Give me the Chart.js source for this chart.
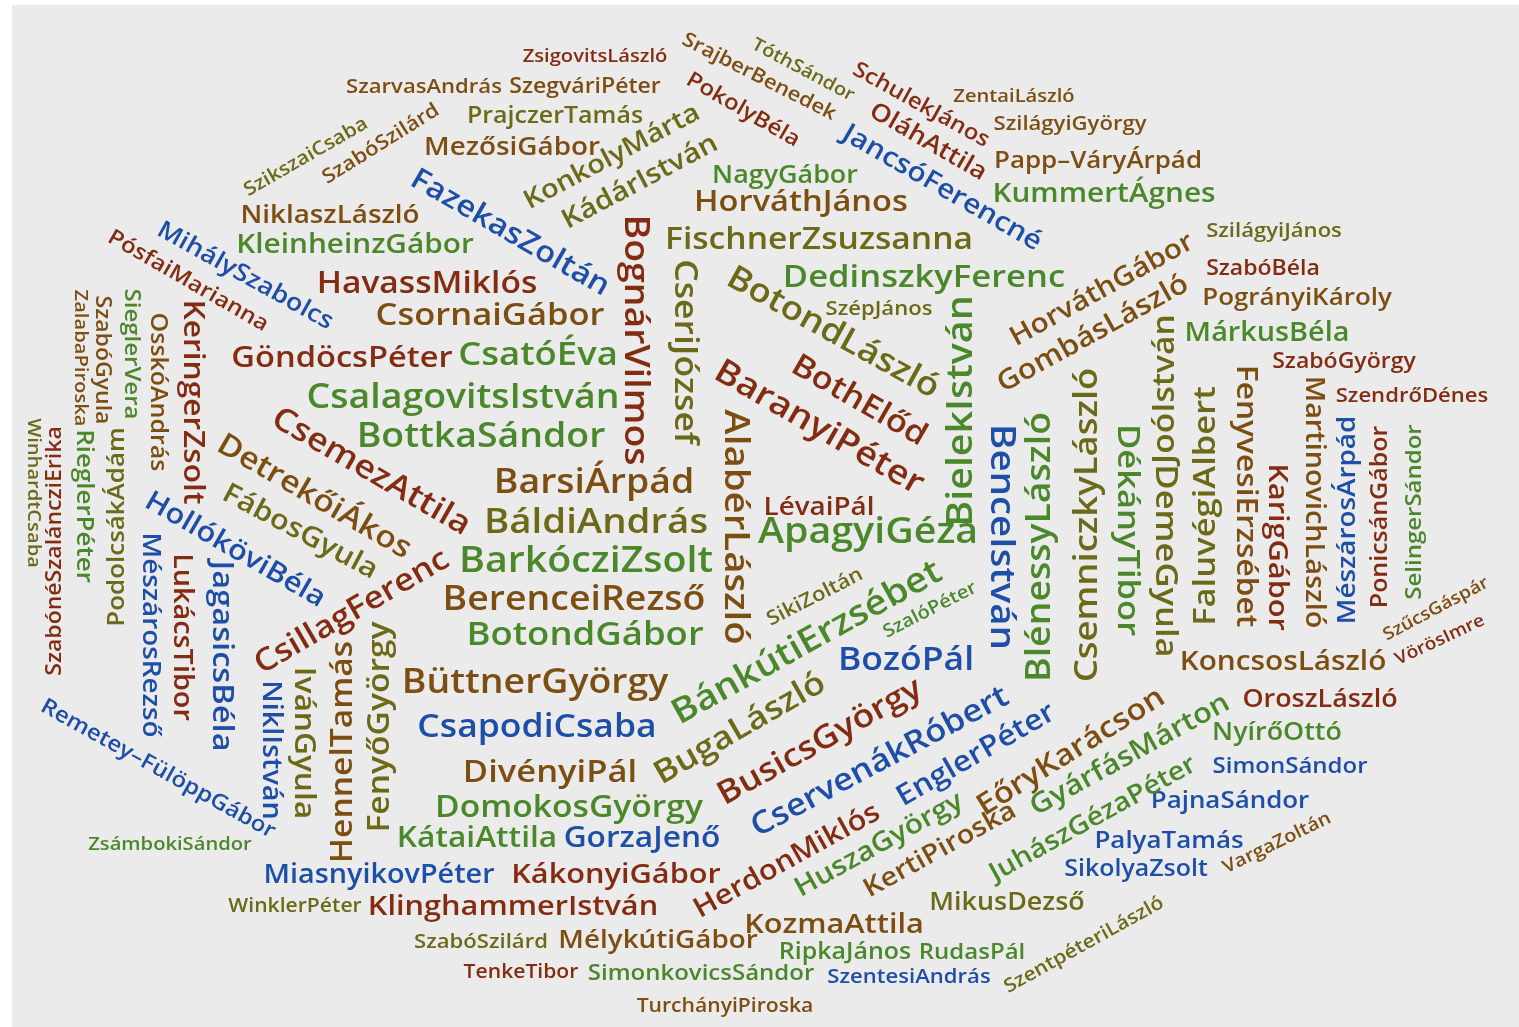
<!DOCTYPE html>
<html>
<head>
<meta charset="utf-8">
<script src="https://cdn.jsdelivr.net/npm/chart.js@4.4.0/dist/chart.umd.min.js"></script>
<style>
  html, body { margin: 0; padding: 0; background: #fff; overflow: hidden; }
</style>
</head>
<body>
<canvas id="cloud" width="1519" height="1027"></canvas>
<script>
// word cloud of names: each name is a point of a scatter chart, drawn as text
var names = [
  "ZsigovitsLászló", "SzarvasAndrás", "SzegváriPéter", "PrajczerTamás", "MezősiGábor",
  "NiklaszLászló", "KleinheinzGábor", "HavassMiklós", "CsornaiGábor", "GöndöcsPéter",
  "CsatóÉva", "CsalagovitsIstván", "BottkaSándor", "BarsiÁrpád", "BáldiAndrás",
  "BarkócziZsolt", "BerenceiRezső", "BotondGábor", "BüttnerGyörgy", "CsapodiCsaba",
  "DivényiPál", "DomokosGyörgy", "KátaiAttila", "GorzaJenő", "MiasnyikovPéter",
  "KákonyiGábor", "WinklerPéter", "KlinghammerIstván", "SzabóSzilárd", "MélykútiGábor",
  "TenkeTibor", "SimonkovicsSándor", "TurchányiPiroska", "ZsámbokiSándor", "NagyGábor",
  "HorváthJános", "FischnerZsuzsanna", "DedinszkyFerenc", "SzépJános", "ZentaiLászló",
  "SzilágyiGyörgy", "Papp–VáryÁrpád", "KummertÁgnes", "SzilágyiJános", "SzabóBéla",
  "PogrányiKároly", "MárkusBéla", "SzabóGyörgy", "SzendrőDénes", "KoncsosLászló",
  "OroszLászló", "NyírőOttó", "SimonSándor", "PajnaSándor", "PalyaTamás",
  "SikolyaZsolt", "MikusDezső", "KozmaAttila", "RipkaJános", "RudasPál",
  "SzentesiAndrás", "LévaiPál", "ApagyiGéza", "BozóPál",
  "WinhardtCsaba", "SzabónéSzaláncziErika", "ZalabaPiroska", "SzabóGyula", "SieglerVera",
  "OsskóAndrás", "KeringerZsolt", "RieglerPéter", "PodolcsákÁdám", "MészárosRezső",
  "LukácsTibor", "JagasicsBéla", "NiklIstván", "IvánGyula", "HennelTamás",
  "FenyőGyörgy", "BognárVilmos", "CseriJózsef", "AlabérLászló", "BielekIstván",
  "BenceIstván", "BlénessyLászló", "CsemniczkyLászló", "DékányTibor", "JoóIstván",
  "DemeGyula", "FaluvégiAlbert", "FenyvesiErzsébet", "KarigGábor", "MartinovichLászló",
  "MészárosÁrpád", "PonicsánGábor", "SelingerSándor",
  "SzikszaiCsaba", "SzabóSzilárd", "MihálySzabolcs", "PósfaiMarianna", "FazekasZoltán",
  "KonkolyMárta", "KádárIstván", "SrajberBenedek", "TóthSándor", "PokolyBéla",
  "SchulekJános", "OláhAttila", "JancsóFerencné", "BotondLászló", "BothElőd",
  "BaranyiPéter", "CsemezAttila", "DetrekőiÁkos", "FábosGyula", "HollóköviBéla",
  "CsillagFerenc", "Remetey–FülöppGábor", "HorváthGábor", "GombásLászló", "SikiZoltán",
  "SzalóPéter", "BánkútiErzsébet", "BugaLászló", "BusicsGyörgy", "CservenákRóbert",
  "HerdonMiklós", "EnglerPéter", "HuszaGyörgy", "EőryKarácson", "KertiPiroska",
  "GyárfásMárton", "JuhászGézaPéter", "VargaZoltán", "SzentpéteriLászló", "SzűcsGáspár",
  "VörösImre"
];

var xs = [
  595, 424, 585, 555, 512,   330, 355, 427, 490, 342,
  538, 463, 481, 594, 596,   586, 574, 585, 535, 537,
  550, 569, 477, 642, 379,   616, 295, 513, 481, 658,
  521, 701, 725, 170, 785,   801, 819, 924, 879, 1014,
  1070, 1098, 1104, 1274, 1263,   1297, 1267, 1344, 1412, 1283,
  1320, 1277, 1290, 1230, 1169,   1136, 1007, 834, 845, 972,
  909, 819, 868, 906,
  33, 55, 80, 102, 131,   157, 192, 84, 117, 150,
  181, 221, 270, 303, 343,   380, 635, 684, 735, 962,
  1001, 1040, 1088, 1127, 1165,   1165, 1206, 1245, 1277, 1313,
  1348, 1381, 1415,
  306, 381, 245, 188, 510,   612, 640, 759, 803, 743,
  921, 928, 942, 833, 859,   819, 371, 314, 300, 235,
  352, 158, 1102, 1093, 815,   930, 807, 740, 820, 880,
  787, 976, 879, 1071, 940,   1130, 1093, 1277, 1084, 1436,
  1440
];

var ys = [
  57, 87, 87, 117, 148,   216, 245, 284, 316, 359,
  356, 398, 437, 483, 523,   562, 600, 636, 683, 728,
  773, 808, 839, 839, 876,   875, 907, 907, 942, 941,
  973, 974, 1007, 845, 176,   203, 240, 278, 309, 97,
  124, 161, 194, 231, 269,   298, 334, 362, 396, 662,
  700, 733, 767, 801, 841,   870, 903, 925, 953, 953,
  977, 508, 533, 661,
  493, 551, 358, 360, 354,   392, 402, 506, 527, 635,
  637, 656, 750, 743, 752,   727, 340, 352, 527, 411,
  537, 547, 525, 530, 389,   561, 506, 496, 547, 502,
  520, 517, 512,
  157, 144, 276, 281, 233,   157, 182, 77, 70, 110,
  105, 142, 188, 333, 401,   428, 472, 497, 532, 550,
  612, 769, 290, 334, 597,   610, 643, 729, 742, 762,
  861, 755, 845, 752, 850,   755, 819, 843, 945, 609,
  640
];

// word weight, shown as font size
var weights = [
  21, 23, 24, 26, 29,   29, 31, 35, 36, 34,
  38, 39, 39, 39, 40,   41, 39, 38, 39, 37,
  36, 35, 33, 33, 30,   32, 22, 32, 23, 29,
  22, 25, 22, 21, 28,   34, 35, 36, 23, 21,
  23, 27, 31, 23, 24,   27, 30, 24, 23, 31,
  28, 28, 25, 27, 27,   26, 28, 32, 26, 25,
  23, 29, 41, 37,
  21, 24, 21, 24, 25,   26, 33, 27, 27, 29,
  30, 34, 30, 33, 35,   35, 39, 37, 40, 41,
  40, 39, 38, 36, 35,   36, 36, 33, 32, 30,
  29, 26, 25,
  22, 23, 28, 25, 34,   30, 31, 23, 21, 25,
  25, 28, 31, 38, 36,   39, 37, 35, 32, 32,
  36, 25, 31, 32, 23,   21, 40, 37, 37, 36,
  32, 33, 31, 34, 30,   32, 30, 21, 22, 20,
  20
];

// orientation of each word in degrees
var angles = [
  0, 0, 0, 0, 0,   0, 0, 0, 0, 0,
  0, 0, 0, 0, 0,   0, 0, 0, 0, 0,
  0, 0, 0, 0, 0,   0, 0, 0, 0, 0,
  0, 0, 0, 0, 0,   0, 0, 0, 0, 0,
  0, 0, 0, 0, 0,   0, 0, 0, 0, 0,
  0, 0, 0, 0, 0,   0, 0, 0, 0, 0,
  0, 0, 0, 0,
  90, -90, 90, 90, 90,   90, 90, 90, -90, 90,
  90, 90, 90, 90, -90,   -90, 90, 90, 90, -90,
  90, -90, -90, 90, -90,   90, -90, 90, 90, 90,
  -90, -90, -90,
  -30, -32, 29, 30, 30,   -28, -28, 27, 28, 30,
  29, 30, 30, 29, 30,   30, 30, 30, 28, 30,
  -30, 29, -29, -29, -27,   -27, -29, -30, -29, -28,
  -29, -30, -29, -32, -29,   -29, -29, -26, -29, -28,
  -25
];

// colour group: r red-brown, b brown, o olive, g green, u blue
var tones = [
  "r", "b", "b", "o", "b",   "b", "g", "r", "b", "r",
  "g", "g", "g", "b", "o",   "g", "b", "g", "b", "u",
  "b", "g", "g", "u", "u",   "r", "o", "r", "o", "b",
  "r", "g", "b", "g", "g",   "b", "o", "g", "o", "b",
  "b", "b", "g", "o", "r",   "b", "g", "r", "r", "b",
  "r", "g", "u", "u", "u",   "u", "o", "b", "g", "g",
  "u", "r", "g", "u",
  "o", "r", "b", "b", "g",   "b", "r", "g", "o", "u",
  "r", "u", "u", "o", "b",   "o", "r", "o", "b", "g",
  "u", "g", "o", "g", "o",   "o", "o", "b", "r", "b",
  "u", "r", "g",
  "o", "b", "u", "r", "u",   "o", "o", "b", "o", "r",
  "r", "r", "u", "o", "r",   "r", "r", "b", "o", "u",
  "r", "u", "b", "b", "o",   "g", "g", "o", "r", "u",
  "r", "u", "g", "b", "b",   "g", "g", "b", "o", "b",
  "r"
];

var palette = { r: "#832c12", b: "#7d4e12", o: "#6c6a18", g: "#4b882b", u: "#1d4ea8" };

var wordPlugin = {
  id: "words",
  beforeDraw: function (chart) {
    var ctx = chart.ctx, x = chart.scales.x, y = chart.scales.y;
    var left = x.getPixelForValue(12), top = y.getPixelForValue(5);
    ctx.save();
    ctx.fillStyle = "#ebebeb";
    ctx.fillRect(left, top, x.getPixelForValue(1519) - left, y.getPixelForValue(1027) - top);
    ctx.restore();
  },
  afterDatasetsDraw: function (chart) {
    var ctx = chart.ctx;
    var meta = chart.getDatasetMeta(0);
    meta.data.forEach(function (pt, i) {
      ctx.save();
      ctx.translate(pt.x, pt.y);
      ctx.rotate(angles[i] * Math.PI / 180);
      ctx.scale(0.96, 0.87);
      ctx.font = '600 ' + weights[i] + 'px "Open Sans"';
      ctx.fillStyle = palette[tones[i]];
      ctx.textAlign = "center";
      ctx.textBaseline = "middle";
      ctx.fillText(names[i], 0, 0);
      ctx.restore();
    });
  }
};

function draw() {
  new Chart("cloud", {
    type: "scatter",
    data: {
      labels: names,
      datasets: [{
        data: xs.map(function (v, i) { return { x: v, y: ys[i] }; }),
        pointRadius: 0
      }]
    },
    options: {
      responsive: false,
      animation: false,
      layout: { padding: 0 },
      plugins: { legend: { display: false }, tooltip: { enabled: false } },
      scales: {
        x: { type: "linear", min: 0, max: 1519, display: false },
        y: { type: "linear", min: 0, max: 1027, reverse: true, display: false }
      }
    },
    plugins: [wordPlugin]
  });
}

document.fonts.load('600 30px "Open Sans"').then(draw, draw);
</script>
</body>
</html>
